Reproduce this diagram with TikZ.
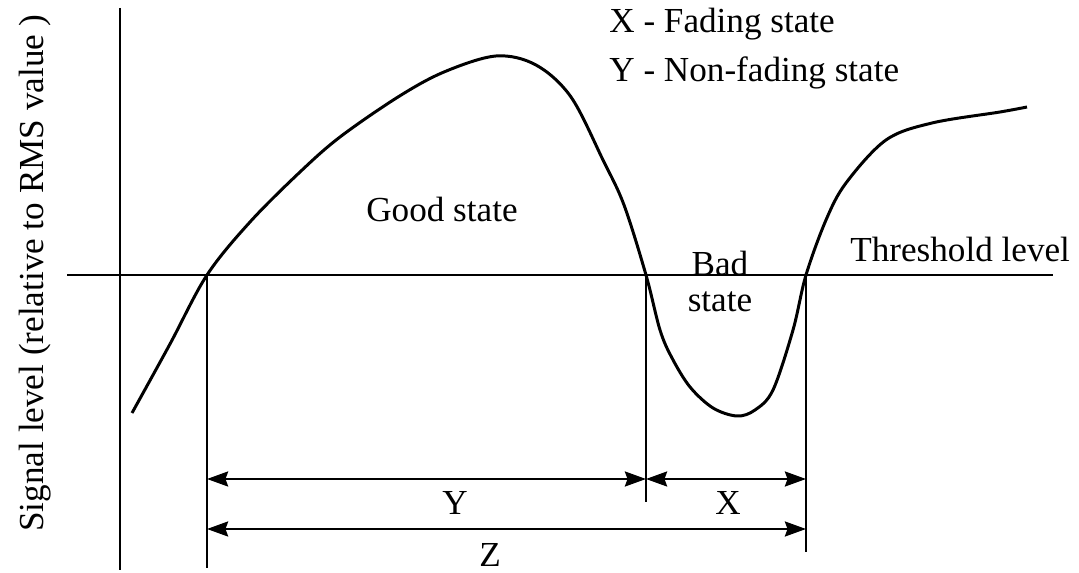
\documentclass[tikz,border=0pt]{standalone}
\usepackage{fontspec}
\setmainfont{Liberation Serif}
\usetikzlibrary{arrows.meta,positioning}
\tikzset{
  >={Stealth[length=12pt,width=8.5pt,inset=1.5pt]},
  axisline/.style={line width=1.2pt,draw=black},
  signal/.style={line width=1.7pt,draw=black,line join=round},
  guide/.style={line width=1.2pt,draw=black},
  span/.style={<->,line width=1.5pt,draw=black},
  lbl/.style={font=\fontsize{20}{20.5}\selectfont,inner sep=0pt,align=center},
}
\begin{document}
\begin{tikzpicture}[x=0.02cm,y=-0.02cm]
  \useasboundingbox (0,0) rectangle (1079,573);
  % axis and threshold
  \coordinate (axtop) at (120,8);
  \coordinate (axbot) at (120,570);
  \coordinate (thl) at (67,275);
  \coordinate (thr) at (1053,275);
  \draw[axisline] (axtop) -- (axbot);
  \draw[axisline,line width=1.5pt] (thl) -- (thr);
  % threshold crossings
  \coordinate (c1) at (207,275);
  \coordinate (c2) at (646,275);
  \coordinate (c3) at (806,275);
  % signal envelope
  \draw[signal] plot[smooth,tension=0.55] coordinates {
    (132,413) (170,344) (207,275) (250,222) (300,172) (340,137) (398,97)
    (444,72) (496,56) (536,65) (571,97) (603,160) (624,205) (646,275)
    (660,330) (672,358) (690,387) (713,408) (737,416) (755,410) (773,390)
    (793,330) (806,275) (826,220) (846,183) (886,140) (932,123) (1000,112) (1027,107)};
  % drop lines
  \coordinate (d1) at (207,568);
  \coordinate (d2) at (646,502);
  \coordinate (d3) at (806,552);
  \draw[guide] (c1) -- (d1);
  \draw[guide] (c2) -- (d2);
  \draw[guide] (c3) -- (d3);
  % spans
  \coordinate (y1) at (207,479);
  \coordinate (y2) at (646,479);
  \coordinate (x2) at (806,479);
  \coordinate (z1) at (207,529);
  \coordinate (z2) at (806,529);
  \draw[span] (y1) -- (y2);
  \draw[span] (y2) -- (x2);
  \draw[span] (z1) -- (z2);
  % labels
  \node[lbl,anchor=base] (ly) at (455,515) {Y};
  \node[lbl,anchor=base] (lx) at (728,515) {X};
  \node[lbl,anchor=base] (lz) at (490,567) {Z};
  \node[lbl,anchor=base] (good) at (442,222) {Good state};
  \node[lbl,anchor=base] (bad) at (720,312) {Bad\\state};
  \node[lbl,anchor=base west] (thlbl) at (850,262) {Threshold level};
  \node[lbl,anchor=base west] (keyx) at (609,33) {X - Fading state};
  \node[lbl,anchor=base west] (keyy) at (609,82) {Y - Non-fading state};
  \node[lbl,rotate=90] (ylab) at (35,273) {Signal level (relative to RMS value )};
\end{tikzpicture}
\end{document}
